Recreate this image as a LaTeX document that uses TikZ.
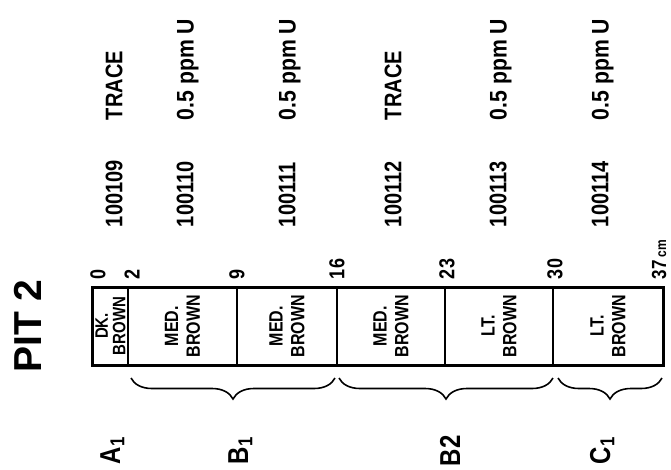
\documentclass[tikz,border=0pt]{standalone}
\usepackage{fontspec}
\setmainfont{Liberation Sans}
\usetikzlibrary{decorations.pathreplacing}
\begin{document}
\begin{tikzpicture}[x=1pt,y=-1pt,
  lbl/.style={rotate=90, yscale=1.2, inner sep=0pt, outer sep=0pt},
  depthlbl/.style={lbl, anchor=west, font=\fontsize{18}{18}\selectfont\bfseries},
  sample/.style={lbl, anchor=west, font=\fontsize{20}{20}\selectfont\bfseries},
  value/.style={lbl, anchor=base west, font=\fontsize{20}{20}\selectfont\bfseries},
  layer/.style={lbl, anchor=center, align=center, font=\fontsize{16}{18}\selectfont\bfseries},
  smalllayer/.style={layer, font=\fontsize{15}{14.5}\selectfont\bfseries},
  horizon/.style={lbl, anchor=base west, font=\fontsize{24}{24}\selectfont\bfseries},
  brc/.style={decorate, decoration={brace, amplitude=21pt}, line width=1.6pt},
  outer/.style={line width=3pt},
  divider/.style={line width=1.8pt}
]
\useasboundingbox[fill=white] (0,0) rectangle (671,469);

% title
\node[rotate=90, inner sep=0pt, anchor=base west, font=\fontsize{39}{39}\selectfont\bfseries] (title) at (41,373) {PIT 2};

% column frame
\coordinate (tl) at (92,287);
\coordinate (br) at (663,365);
\draw[outer] (tl) rectangle (br);
\foreach \x/\n in {128/d2, 237/d9, 337/d16, 445/d23, 553/d30} {
  \coordinate (\n t) at (\x,287);
  \coordinate (\n b) at (\x,365);
  \draw[divider] (\n t) -- (\n b);
}

% depth labels
\node[depthlbl] (z0)  at (98,279) {0};
\node[depthlbl] (z2)  at (132,279) {2};
\node[depthlbl] (z9)  at (237,279) {9};
\node[depthlbl] (z16) at (337,279) {16};
\node[depthlbl] (z23) at (447,279) {23};
\node[depthlbl] (z30) at (555,279) {30};
\node[depthlbl, font=\fontsize{17}{17}\selectfont\bfseries] (z37) at (659,279) {37\,{\fontsize{12}{12}\selectfont cm}};

% layer descriptions
\node[smalllayer] (l1) at (110.5,326) {DK.\\BROWN};
\node[layer] (l2) at (182.5,326) {MED.\\BROWN};
\node[layer] (l3) at (287,326) {MED.\\BROWN};
\node[layer] (l4) at (391,326) {MED.\\BROWN};
\node[layer] (l5) at (499,326) {LT.\\BROWN};
\node[layer] (l6) at (608,326) {LT.\\BROWN};

% sample numbers and values
\node[sample] (s1) at (114,227) {100109};
\node[sample] (s2) at (185,227) {100110};
\node[sample] (s3) at (287,227) {100111};
\node[sample] (s4) at (393,227) {100112};
\node[sample] (s5) at (498,227) {100113};
\node[sample] (s6) at (600,227) {100114};
\node[sample] (v1) at (114,120) {TRACE};
\node[value] (v2) at (193.5,120) {\scalebox{1.06}[1]{0.5 ppm U}};
\node[value] (v3) at (295.5,120) {\scalebox{1.06}[1]{0.5 ppm U}};
\node[sample] (v4) at (393,120) {TRACE};
\node[value] (v5) at (506.5,120) {\scalebox{1.06}[1]{0.5 ppm U}};
\node[value] (v6) at (608.5,120) {\scalebox{1.06}[1]{0.5 ppm U}};

% braces
\coordinate (b1s) at (131,378); \coordinate (b1e) at (335,378);
\coordinate (b2s) at (339,378); \coordinate (b2e) at (553,378);
\coordinate (b3s) at (558,378); \coordinate (b3e) at (662,378);
\draw[brc] (b1e) -- (b1s);
\draw[brc] (b2e) -- (b2s);
\draw[brc] (b3e) -- (b3s);

% horizon labels
\node[horizon] (hA1) at (120,464) {A$_{\mathbf{1}}$};
\node[horizon] (hB1) at (248,464) {B$_{\mathbf{1}}$};
\node[horizon] (hB2) at (460,466) {B2};
\node[horizon] (hC1) at (610,464) {C$_{\mathbf{1}}$};
\end{tikzpicture}
\end{document}
